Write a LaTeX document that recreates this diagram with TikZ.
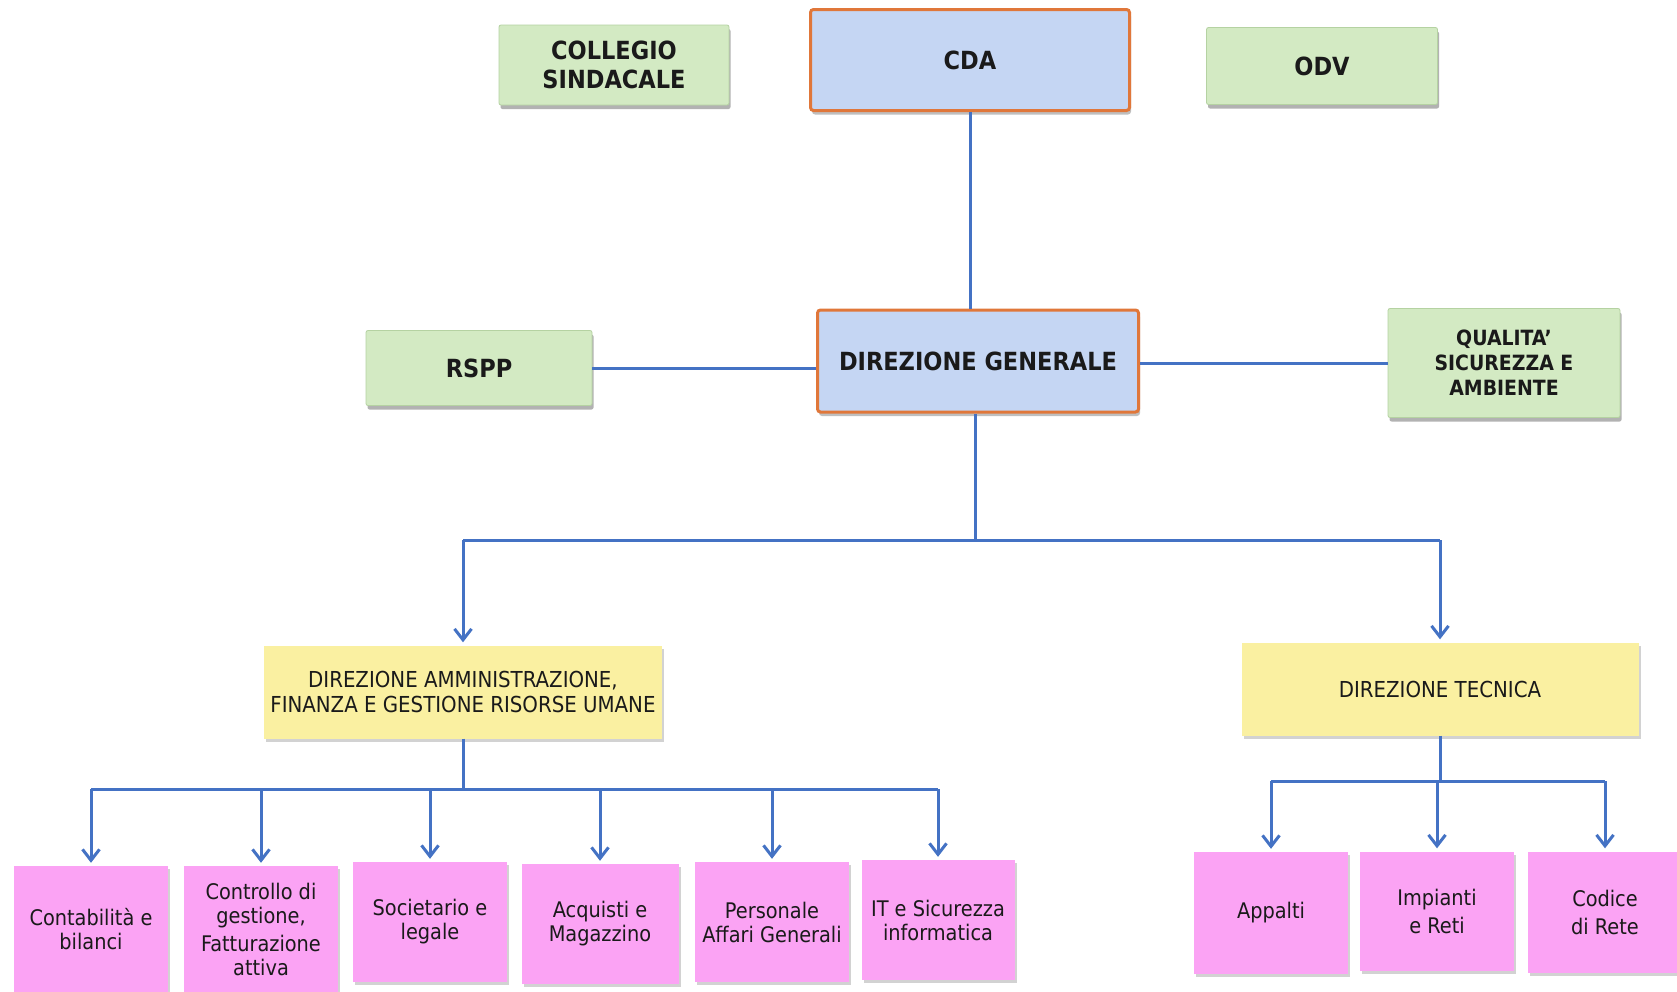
\documentclass[tikz,border=0pt]{standalone}
\usepackage{fontspec}
\setmainfont{DejaVu Sans Condensed}
\usetikzlibrary{arrows.meta,shadows}
\definecolor{gfill}{HTML}{D3EAC3}
\definecolor{gbord}{HTML}{B5D2A2}
\definecolor{bfill}{HTML}{C5D6F3}
\definecolor{obord}{HTML}{E0773A}
\definecolor{yfill}{HTML}{FAF0A1}
\definecolor{pfill}{HTML}{FBA3F4}
\definecolor{lblue}{HTML}{4472C4}
\definecolor{txt}{HTML}{1A1A1A}
\begin{document}
\begin{tikzpicture}[x=1pt,y=-1pt,
  base/.style={rectangle, inner sep=0pt, align=center, text=txt},
  greenbox/.style={base, fill=gfill, draw=gbord, line width=0.8pt, rounded corners=2pt,
    drop shadow={shadow xshift=1.5pt, shadow yshift=-4pt, opacity=0.55, fill=black!55},
    font=\fontsize{25}{29}\selectfont\bfseries},
  bluebox/.style={base, fill=bfill, draw=obord, line width=3pt, rounded corners=3pt,
    drop shadow={shadow xshift=1.5pt, shadow yshift=-4pt, opacity=0.45, fill=black!55},
    font=\fontsize{25}{29}\selectfont\bfseries},
  yellowbox/.style={base, fill=yfill, minimum width=397, minimum height=93,
    drop shadow={shadow xshift=2pt, shadow yshift=-3pt, opacity=0.35, fill=black!50},
    font=\fontsize{22}{24.5}\selectfont},
  pinkbox/.style={base, fill=pfill, minimum width=154,
    drop shadow={shadow xshift=2pt, shadow yshift=-3pt, opacity=0.35, fill=black!50},
    font=\fontsize{21.5}{24}\selectfont},
  conn/.style={draw=lblue, line width=3pt},
  arr/.style={conn, -{Straight Barb[length=11pt,width=17pt,line width=3pt]}, shorten >=3pt}]
\useasboundingbox (0,0) rectangle (1677,991);
\clip (0,0) rectangle (1677,991);
\fill[white] (0,0) rectangle (1677,991);

% top row
\node[greenbox, minimum width=230, minimum height=80] (coll) at (614,65) {COLLEGIO\\SINDACALE};
\node[bluebox, minimum width=319, minimum height=101] (cda) at (970,60) {CDA};
\node[greenbox, minimum width=231, minimum height=77] (odv) at (1322,66) {ODV};

% second row
\node[greenbox, minimum width=226, minimum height=75] (rspp) at (479,368) {RSPP};
\node[bluebox, minimum width=321, minimum height=102] (dg) at (978,361) {DIREZIONE GENERALE};
\node[greenbox, minimum width=232, minimum height=109,
  font=\fontsize{21}{25}\selectfont\bfseries] (qsa) at (1504,363) {QUALITA'\\SICUREZZA E\\AMBIENTE};

% directions
\node[yellowbox, minimum width=398] (daf) at (463,692) {DIREZIONE AMMINISTRAZIONE,\\FINANZA E GESTIONE RISORSE UMANE};
\node[yellowbox] (dt) at (1440,689) {DIREZIONE TECNICA};

% left units
\node[pinkbox, minimum height=126] (p1) at (91,929) {Contabilità e\\bilanci};
\node[pinkbox, minimum height=126] (p2) at (261,929) {Controllo di\\gestione,\\[4pt]Fatturazione\\attiva};
\node[pinkbox, minimum height=120] (p3) at (430,922) {Societario e\\legale};
\node[pinkbox, minimum height=120, minimum width=157] (p4) at (600,924) {Acquisti e\\Magazzino};
\node[pinkbox, minimum height=120] (p5) at (772,922) {Personale\\Affari Generali};
\node[pinkbox, minimum height=120, minimum width=153] (p6) at (938,920) {IT e Sicurezza\\informatica};

% right units
\node[pinkbox, minimum height=122] (r1) at (1271,913) {Appalti};
\node[pinkbox, minimum height=119] (r2) at (1437,911) {Impianti\\[4pt]e Reti};
\node[pinkbox, minimum height=121] (r3) at (1605,912) {Codice\\[4pt]di Rete};

% connectors
\coordinate (j1) at (975,540);
\coordinate (j2) at (463,789);
\coordinate (j3) at (1440,781);

\draw[conn] (cda.south) -- (cda.south |- dg.north);
\draw[conn] (rspp.east) -- (rspp.east -| dg.west);
\draw[conn] (qsa.west -| dg.east) -- (qsa.west);
\draw[conn] (dg.south -| j1) -- (j1);
\draw[conn] (daf.north |- j1) -- (dt.north |- j1);
\draw[arr] (daf.north |- j1) -- (daf.north);
\draw[arr] (dt.north |- j1) -- (dt.north);

\draw[conn] (daf.south) -- (j2);
\draw[conn] (p1.north |- j2) -- (p6.north |- j2);
\foreach \p in {p1,p2,p3,p4,p5,p6}{
  \draw[arr] (\p.north |- j2) -- (\p.north);
}
\draw[conn] (dt.south) -- (j3);
\draw[conn] (r1.north |- j3) -- (r3.north |- j3);
\foreach \p in {r1,r2,r3}{
  \draw[arr] (\p.north |- j3) -- (\p.north);
}
\end{tikzpicture}
\end{document}
